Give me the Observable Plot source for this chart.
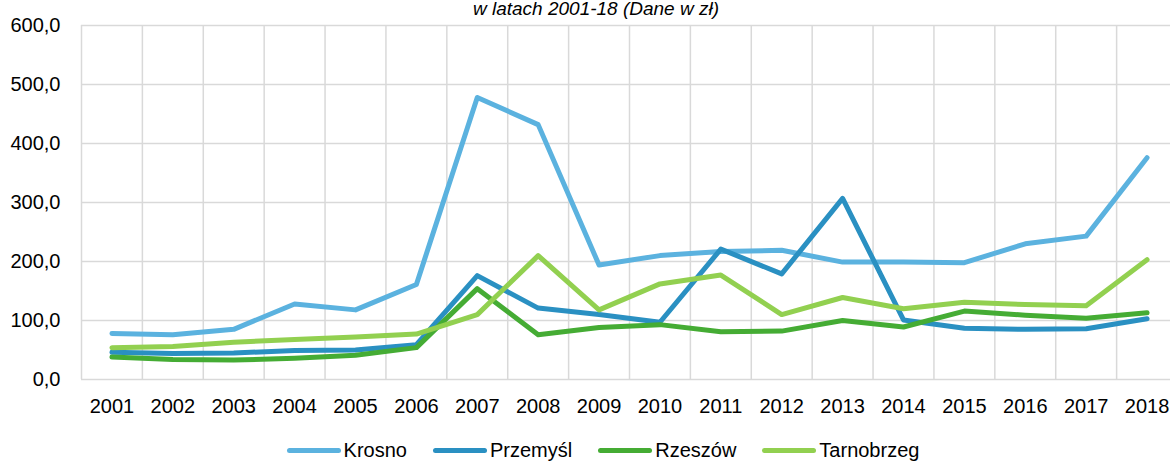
<!DOCTYPE html>
<html>
<head>
<meta charset="utf-8">
<script src="https://cdn.jsdelivr.net/npm/d3@7"></script>
<script src="https://cdn.jsdelivr.net/npm/@observablehq/plot@0.6"></script>
<style>
  html, body { margin: 0; padding: 0; background: #fff; overflow: hidden; width: 1170px; height: 461px; }
  body { position: relative; font-family: "Liberation Sans", Arial, sans-serif; }
  #title { position: absolute; left: 0; width: 1192px; text-align: center; top: -1px; font-size: 19px; line-height: 20px; font-style: italic; color: #000; }
  #chart { position: absolute; left: 0; top: 0; }
  #legend { position: absolute; top: 439px; left: 0; width: 1206px; display: flex; justify-content: center; font-size: 20px; line-height: 22px; color: #000; }
  .item { display: flex; align-items: center; margin: 0 13px; }
  .sw { width: 54px; height: 5px; border-radius: 3px; margin-right: 3px; }
</style>
</head>
<body>
<div id="title">w latach 2001-18 (Dane w zł)</div>
<div id="chart"></div>
<div id="legend"></div>
<script>
const years = [2001,2002,2003,2004,2005,2006,2007,2008,2009,2010,2011,2012,2013,2014,2015,2016,2017,2018];
const seriesNames = ["Krosno", "Przemyśl", "Rzeszów", "Tarnobrzeg"];
const seriesColors = ["#5BB2DF", "#2A90C2", "#45AC34", "#92D050"];
const krosno     = [78, 76, 85, 128, 118, 161, 478, 432, 194, 210, 217, 219, 199, 199, 198, 230, 243, 376];
const przemysl   = [46, 44, 45, 49, 50, 59, 176, 121, 110, 97, 221, 179, 307, 101, 87, 85, 86, 103];
const rzeszow    = [38, 34, 33, 36, 41, 54, 154, 76, 88, 93, 81, 82, 100, 89, 116, 109, 104, 113];
const tarnobrzeg = [54, 56, 63, 68, 72, 77, 110, 210, 118, 162, 177, 110, 139, 120, 131, 127, 125, 203];
const yTicks = [0, 100, 200, 300, 400, 500, 600];

const allValues = [krosno, przemysl, rzeszow, tarnobrzeg];
const rows = [];
seriesNames.forEach((name, i) => {
  years.forEach((yr, j) => rows.push({series: name, year: yr, value: allValues[i][j]}));
});
const edges = years.map(y => y - 0.5).concat([years[years.length - 1] + 0.5]);
const fmt = d => d.toFixed(1).replace(".", ",");

const chart = Plot.plot({
  width: 1177,
  height: 424,
  marginLeft: 81,
  marginRight: 0,
  marginTop: 25,
  marginBottom: 45,
  style: { fontFamily: '"Liberation Sans", Arial, sans-serif', fontSize: "20px", color: "#000", maxWidth: "none", overflow: "visible" },
  x: { domain: [years[0] - 0.5, years[years.length - 1] + 0.5] },
  y: { domain: [0, 600] },
  color: { domain: seriesNames, range: seriesColors },
  marks: [
    Plot.ruleY(yTicks, { stroke: "#d9d9d9", strokeWidth: 1.5 }),
    Plot.ruleX(edges, { stroke: "#d9d9d9", strokeWidth: 1.5 }),
    Plot.axisY(yTicks, { tickSize: 0, tickPadding: 21, tickFormat: fmt, label: null, fontSize: 20 }),
    Plot.axisX(years, { tickSize: 0, tickPadding: 19, tickFormat: d => String(d), label: null, fontSize: 20 }),
    Plot.line(rows, { x: "year", y: "value", z: "series", stroke: "series", strokeWidth: 5, strokeLinecap: "round", strokeLinejoin: "round" })
  ]
});
document.getElementById("chart").appendChild(chart);

const legend = document.getElementById("legend");
seriesNames.forEach((name, i) => {
  const item = document.createElement("div");
  item.className = "item";
  const sw = document.createElement("div");
  sw.className = "sw";
  sw.style.background = seriesColors[i];
  const t = document.createElement("span");
  t.textContent = name;
  item.appendChild(sw);
  item.appendChild(t);
  legend.appendChild(item);
});
</script>
</body>
</html>
